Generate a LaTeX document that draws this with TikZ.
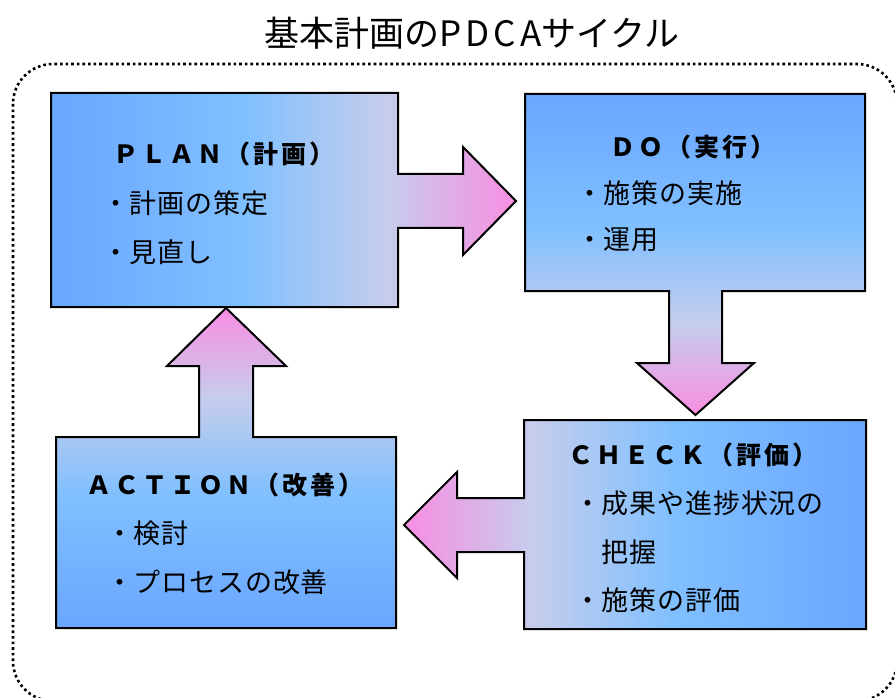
\documentclass[tikz,border=0pt]{standalone}
\usepackage{fontspec}
\newfontfamily\jptitle[LetterSpace=0]{Noto Sans CJK JP}
\newfontfamily\jpbody[LetterSpace=3]{Noto Sans CJK JP}
\newfontfamily\jphead[LetterSpace=12]{Noto Sans CJK JP}
\definecolor{cdeep}{RGB}{106,166,255}
\definecolor{clight}{RGB}{128,192,255}
\definecolor{clav}{RGB}{198,205,236}
\definecolor{cpink}{RGB}{248,142,226}
\pgfdeclarehorizontalshading{pdca}{100bp}{color(0bp)=(cdeep); color(25bp)=(cdeep); color(46bp)=(clight); color(61bp)=(clav); color(75bp)=(cpink); color(100bp)=(cpink)}
\begin{document}
\begin{tikzpicture}[x=1pt,y=-1pt,
  shapebox/.style={shading=pdca, draw=black, line width=2pt, line join=miter},
  headtext/.style={anchor=west, inner sep=0pt, font=\jphead\bfseries\fontsize{25}{25}\selectfont},
  bodytext/.style={anchor=west, inner sep=0pt, font=\jpbody\fontsize{27}{27}\selectfont},
  frame/.style={line width=2.6pt, dash pattern=on 2.6pt off 3pt}]
\useasboundingbox (0,0) rectangle (895,698);
\fill[white] (0,0) rectangle (895,698);
% title
\node[inner sep=0pt, font=\jptitle\fontsize{35}{35}\selectfont] (title) at (472,33) {基本計画の{\addfontfeature{LetterSpace=12}PDCA}サイクル};
% dotted frame
\draw[frame, rounded corners=40pt] (13,64) rectangle (897,701);
% PLAN
\shadedraw[shapebox, shading angle=0] (51,93) -- (398,93) -- (398,174) -- (463,174) -- (463,147) -- (516,201) -- (463,255) -- (463,228) -- (398,228) -- (398,307) -- (51,307) -- cycle;
% DO
\shadedraw[shapebox, shading angle=-90] (525,94) -- (865,94) -- (865,291) -- (722,291) -- (722,363) -- (754,363) -- (695.5,415) -- (637,363) -- (669,363) -- (669,291) -- (525,291) -- cycle;
% CHECK
\shadedraw[shapebox, shading angle=180] (866,420) -- (866,629) -- (524,629) -- (524,552) -- (457,552) -- (457,578) -- (404,525) -- (457,472) -- (457,498) -- (524,498) -- (524,420) -- cycle;
% ACTION
\shadedraw[shapebox, shading angle=90] (56,628) -- (396,628) -- (396,437) -- (253,437) -- (253,366) -- (286,366) -- (226,308) -- (167,366) -- (199,366) -- (199,437) -- (56,437) -- cycle;
% texts
\node[headtext] (planh) at (113,154) {ＰＬＡＮ（計画）};
\node[bodytext] (plan1) at (102,203) {・計画の策定};
\node[bodytext] (plan2) at (102,252) {・見直し};
\node[headtext] (doh) at (610,147) {ＤＯ（実行）};
\node[bodytext] (do1) at (576,193) {・施策の実施};
\node[bodytext] (do2) at (576,240) {・運用};
\node[headtext] (checkh) at (568,455) {ＣＨＥＣＫ（評価）};
\node[bodytext] (check1) at (574,503) {・成果や進捗状況の};
\node[bodytext] (check2) at (574,552) {　把握};
\node[bodytext] (check3) at (574,600) {・施策の評価};
\node[headtext] (acth) at (86,485) {ＡＣＴＩＯＮ（改善）};
\node[bodytext] (act1) at (106,533) {・検討};
\node[bodytext] (act2) at (106,582) {・プロセスの改善};
\end{tikzpicture}
\end{document}
